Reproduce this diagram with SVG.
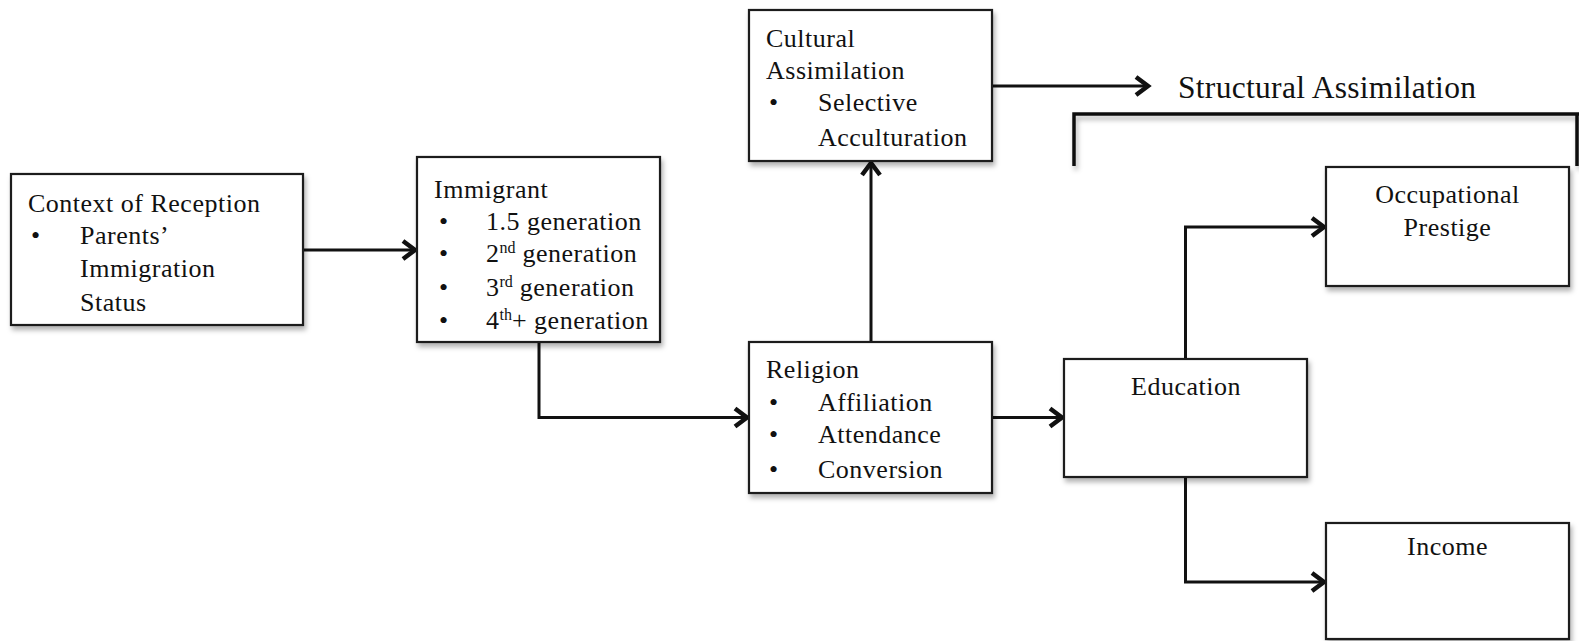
<svg xmlns="http://www.w3.org/2000/svg" width="1579" height="641" viewBox="0 0 1579 641">
<defs>
<filter id="sh" x="-10%" y="-10%" width="125%" height="130%">
<feDropShadow dx="2" dy="4" stdDeviation="2.5" flood-color="#000" flood-opacity="0.3"/>
</filter>
<marker id="arr" markerUnits="userSpaceOnUse" markerWidth="20" markerHeight="24" refX="15" refY="12" orient="auto" overflow="visible">
<path d="M3,3 L15,12 L3,21" fill="none" stroke="#111" stroke-width="4.5" stroke-linejoin="miter"/>
</marker>
</defs>
<style>
.box{fill:#fff;stroke:#1a1a1a;stroke-width:2.2;filter:url(#sh)}
.t{font-family:"Liberation Serif","Times New Roman",serif;font-size:26px;letter-spacing:0.5px;fill:#111}
.c{text-anchor:middle}
.sup{font-size:16px;letter-spacing:0}
.con{fill:none;stroke:#111;stroke-width:3;marker-end:url(#arr)}
</style>
<rect width="1579" height="641" fill="#fff"/>

<g id="connectors">
<path class="con" d="M303,250 H415"/>
<path class="con" d="M539,342 V417.5 H747"/>
<path class="con" d="M871,342 V163"/>
<path class="con" d="M992,86 H1148"/>
<path class="con" d="M992,417.5 H1062"/>
<path class="con" d="M1185.5,359 V227 H1324"/>
<path class="con" d="M1185.5,477 V582 H1324"/>
<path d="M1074,166 V114 H1579 M1577,114 V166" fill="none" stroke="#111" stroke-width="3.5" filter="url(#sh)"/>
</g>

<g id="context">
<rect class="box" x="11" y="174" width="292" height="151"/>
<text class="t" x="28" y="212">Context of Reception</text>
<text class="t" x="31" y="244">•</text>
<text class="t" x="80" y="244">Parents’</text>
<text class="t" x="80" y="277">Immigration</text>
<text class="t" x="80" y="311">Status</text>
</g>

<g id="immigrant">
<rect class="box" x="417" y="157" width="243" height="185"/>
<text class="t" x="434" y="198">Immigrant</text>
<text class="t" x="439" y="230">•</text>
<text class="t" x="486" y="230">1.5 generation</text>
<text class="t" x="439" y="262">•</text>
<text class="t" x="486" y="262">2<tspan class="sup" dy="-9">nd</tspan><tspan dy="9"> generation</tspan></text>
<text class="t" x="439" y="296">•</text>
<text class="t" x="486" y="296">3<tspan class="sup" dy="-9">rd</tspan><tspan dy="9"> generation</tspan></text>
<text class="t" x="439" y="329">•</text>
<text class="t" x="486" y="329">4<tspan class="sup" dy="-9">th</tspan><tspan dy="9">+ generation</tspan></text>
</g>

<g id="cultural">
<rect class="box" x="749" y="10" width="243" height="151"/>
<text class="t" x="766" y="47">Cultural</text>
<text class="t" x="766" y="79">Assimilation</text>
<text class="t" x="769" y="111">•</text>
<text class="t" x="818" y="111">Selective</text>
<text class="t" x="818" y="146">Acculturation</text>
</g>

<g id="structural">
<text class="t" x="1178" y="98" style="font-size:31.5px;letter-spacing:0.3px">Structural Assimilation</text>
</g>

<g id="religion">
<rect class="box" x="749" y="342" width="243" height="151"/>
<text class="t" x="766" y="378">Religion</text>
<text class="t" x="769" y="411">•</text>
<text class="t" x="818" y="411">Affiliation</text>
<text class="t" x="769" y="443">•</text>
<text class="t" x="818" y="443">Attendance</text>
<text class="t" x="769" y="478">•</text>
<text class="t" x="818" y="478">Conversion</text>
</g>

<g id="education">
<rect class="box" x="1064" y="359" width="243" height="118"/>
<text class="t c" x="1186" y="395">Education</text>
</g>

<g id="occupational">
<rect class="box" x="1326" y="167" width="243" height="119"/>
<text class="t c" x="1447.5" y="203">Occupational</text>
<text class="t c" x="1447.5" y="236">Prestige</text>
</g>

<g id="income">
<rect class="box" x="1326" y="523" width="243" height="116"/>
<text class="t c" x="1447.5" y="555">Income</text>
</g>
</svg>
